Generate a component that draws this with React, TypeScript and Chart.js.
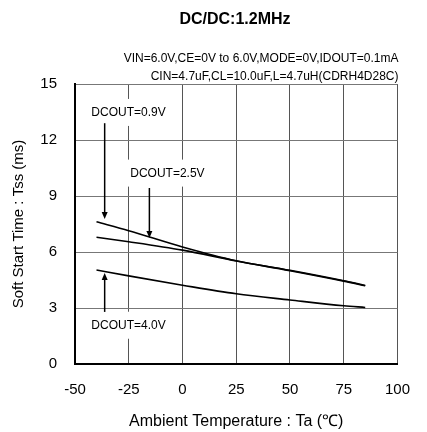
import React, { useEffect, useRef } from 'react';
import { Chart, registerables } from 'chart.js';

Chart.register(...registerables);

const FONT = '"Liberation Sans", Arial, sans-serif';

const chartTitle = 'DC/DC:1.2MHz';
const conditionLines = [
  'VIN=6.0V,CE=0V to 6.0V,MODE=0V,IDOUT=0.1mA',
  'CIN=4.7uF,CL=10.0uF,L=4.7uH(CDRH4D28C)',
];
const xAxisTitle = 'Ambient Temperature : Ta (\u2103)';
const yAxisTitle = 'Soft Start Time : Tss (ms)';

const temps = [-40, -25, 0, 25, 50, 75, 85];
const tss09 = [7.62, 7.14, 6.27, 5.53, 5.02, 4.46, 4.21];
const tss25 = [6.79, 6.55, 6.1, 5.52, 5.0, 4.44, 4.19];
const tss40 = [5.04, 4.72, 4.22, 3.76, 3.43, 3.12, 3.03];

const seriesNames = ['DCOUT=0.9V', 'DCOUT=2.5V', 'DCOUT=4.0V'];

const xTicks = [-50, -25, 0, 25, 50, 75, 100];
const yTicks = [0, 3, 6, 9, 12, 15];

// annotation callouts (data coordinates): text anchor, arrow x, arrow tail, arrow tip
const calloutText = seriesNames;
const calloutTextX = [-42.4, -24.3, -42.4];
const calloutTextY = [13.45, 10.2, 2.05];
const calloutArrowX = [-36.2, -15.4, -36.2];
const calloutArrowTail = [12.9, 9.43, 2.79];
const calloutArrowTip = [7.77, 6.75, 4.87];

const toPoints = (ys: number[]) => temps.map((t, i) => ({ x: t, y: ys[i] }));

const calloutPlugin = {
  id: 'callouts',
  beforeDatasetsDraw(chart: any) {
    const { ctx, scales } = chart;
    const xs = scales.x;
    const ys = scales.y;
    ctx.save();
    ctx.font = `12px ${FONT}`;
    ctx.textBaseline = 'middle';
    ctx.textAlign = 'left';
    for (let i = 0; i < calloutText.length; i++) {
      const tx = xs.getPixelForValue(calloutTextX[i]);
      const ty = ys.getPixelForValue(calloutTextY[i]);
      const w = ctx.measureText(calloutText[i]).width;
      ctx.fillStyle = '#ffffff';
      ctx.fillRect(tx - 6, ty - 14, w + 12, 27);
      ctx.fillStyle = '#000000';
      ctx.fillText(calloutText[i], tx, ty);
      const ax = xs.getPixelForValue(calloutArrowX[i]);
      const a0 = ys.getPixelForValue(calloutArrowTail[i]);
      const a1 = ys.getPixelForValue(calloutArrowTip[i]);
      const dir = a1 > a0 ? 1 : -1;
      ctx.strokeStyle = '#000000';
      ctx.lineWidth = 1.5;
      ctx.beginPath();
      ctx.moveTo(ax, a0);
      ctx.lineTo(ax, a1 - dir * 5);
      ctx.stroke();
      ctx.beginPath();
      ctx.moveTo(ax, a1);
      ctx.lineTo(ax - 3, a1 - dir * 7);
      ctx.lineTo(ax + 3, a1 - dir * 7);
      ctx.closePath();
      ctx.fill();
    }
    ctx.restore();
  },
  afterDraw(chart: any) {
    const { ctx } = chart;
    ctx.save();
    ctx.fillStyle = '#000000';
    ctx.textBaseline = 'middle';
    ctx.font = `bold 16px ${FONT}`;
    ctx.textAlign = 'center';
    ctx.fillText(chartTitle, 235, 20);
    ctx.font = `12px ${FONT}`;
    ctx.textAlign = 'right';
    const right = chart.chartArea.right + 1;
    ctx.fillText(conditionLines[0], right, 59);
    ctx.fillText(conditionLines[1], right, 77);
    ctx.restore();
  },
};

export default function App() {
  const canvasRef = useRef<HTMLCanvasElement | null>(null);

  useEffect(() => {
    if (!canvasRef.current) return;
    const line = (data: number[], label: string) => ({
      label,
      data: toPoints(data),
      borderColor: '#000000',
      backgroundColor: '#000000',
      borderWidth: 1.6,
      pointRadius: 0,
      cubicInterpolationMode: 'monotone' as const,
      fill: false,
    });
    const chart = new Chart(canvasRef.current, {
      type: 'line',
      data: {
        datasets: [
          line(tss09, seriesNames[0]),
          line(tss25, seriesNames[1]),
          line(tss40, seriesNames[2]),
        ],
      },
      options: {
        animation: false,
        responsive: true,
        maintainAspectRatio: false,
        layout: { padding: { top: 84, right: 15, left: 0, bottom: 0 } },
        plugins: {
          legend: { display: false },
          tooltip: { enabled: false },
          title: { display: false },
        },
        scales: {
          x: {
            type: 'linear',
            min: xTicks[0],
            max: xTicks[xTicks.length - 1],
            afterBuildTicks: (s: any) => {
              s.ticks = xTicks.map((v) => ({ value: v }));
            },
            afterFit: (s: any) => {
              s.height = 68;
            },
            grid: { color: '#555555', lineWidth: 1, drawTicks: false },
            border: { display: true, color: '#000000', width: 2 },
            ticks: {
              padding: 17,
              color: '#000000',
              font: { family: FONT, size: 15 },
              maxRotation: 0,
              autoSkip: false,
            },
            title: {
              display: true,
              text: xAxisTitle,
              color: '#000000',
              font: { family: FONT, size: 16 },
              padding: { top: 0, bottom: 1 },
            },
          },
          y: {
            type: 'linear',
            min: yTicks[0],
            max: yTicks[yTicks.length - 1],
            afterBuildTicks: (s: any) => {
              s.ticks = yTicks.map((v) => ({ value: v }));
            },
            afterFit: (s: any) => {
              s.width = 75;
            },
            grid: { color: '#777777', lineWidth: 1, drawTicks: false },
            border: { display: true, color: '#000000', width: 2 },
            ticks: {
              padding: 18,
              color: '#000000',
              font: { family: FONT, size: 15 },
              autoSkip: false,
            },
            title: {
              display: true,
              text: yAxisTitle,
              color: '#000000',
              font: { family: FONT, size: 15 },
              padding: { top: 10, bottom: 0 },
            },
          },
        },
      },
      plugins: [calloutPlugin],
    });
    return () => chart.destroy();
  }, []);

  return (
    <div style={{ position: 'fixed', left: 0, top: 0, width: 427, height: 432, background: '#fff' }}>
      <canvas ref={canvasRef} />
    </div>
  );
}
